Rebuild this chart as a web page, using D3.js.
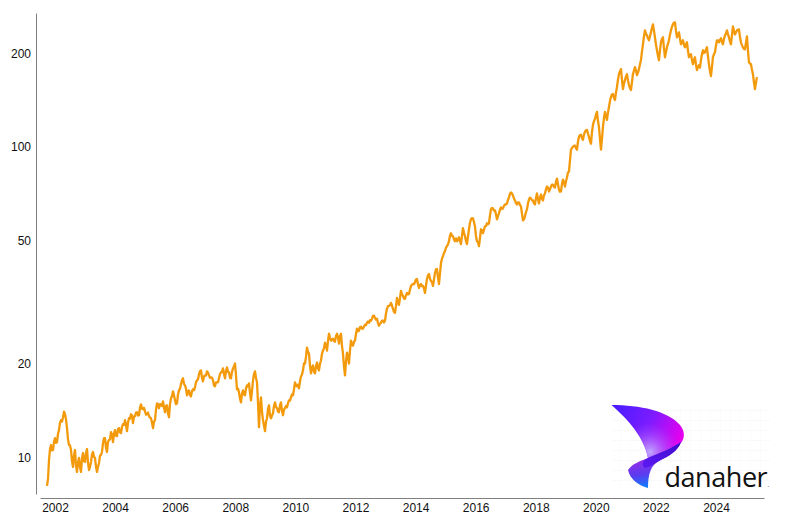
<!DOCTYPE html>
<html><head><meta charset="utf-8">
<script src="https://cdn.jsdelivr.net/npm/d3@7"></script>
<style>html,body{margin:0;background:#fff}svg{display:block}text{font-family:"Liberation Sans",Arial,sans-serif}</style>
</head><body><svg id="c" width="800" height="520"></svg>
<script>
const firstYear = 2001.734;
const yearsPerPoint = 0.03328;
const yTicks = [10, 20, 50, 100, 200];
const xTicks = [2002,2004,2006,2008,2010,2012,2014,2016,2018,2020,2022,2024];
const prices2001to2005 = [8.07,9.78,10.93,10.53,11.50,11.17,12.21,13.14,13.43,13.73,12.39,10.93,10.53,9.29,10.53,8.95,9.93,8.95,10.30,9.64,10.61,9.08,9.64,10.38,9.93,8.95,9.57,10.15,11.09,11.50,10.38,11.34,12.03,11.17,12.21,11.68,12.39,11.94,12.76,13.14,12.12,13.33,13.73,12.85,13.53,13.94,13.63,14.78,14.25,14.04,13.73,13.53,13.33,12.39,13.14,14.89];
const between2001to2005 = [8.5,10.6,10.5,11.2,11.1,11.9,12.9,13.0,14.0,13.2,11.4,10.9,9.7,10.1,9.4,9.6,9.3,9.9,9.7,10.3,9.6,9.3,10.2,10.0,9.3,9.3,10.1,10.4,11.5,10.7,11.2,11.4,11.8,11.9,11.7,12.3,12.0,12.5,12.7,12.7,12.9,13.3,13.6,13.5,13.9,13.6,14.4,14.3,14.4,13.7,13.9,13.4,12.9,13.0,14.2,14.8];
const prices2005to2009 = [14.36,14.78,15.11,13.94,14.67,13.43,15.45,16.27,15.22,14.89,16.39,17.14,17.92,17.01,15.80,16.39,15.68,16.52,16.76,17.65,18.45,19.01,17.52,18.32,18.87,18.32,18.05,17.65,16.89,17.39,17.92,18.73,19.29,17.92,19.43,18.73,17.92,19.29,20.0,16.52,16.15,15.00,16.39,15.80,17.01,17.26,15.22,17.65,18.87,17.39,12.48,15.56,13.14,12.12,13.33,14.67,13.33];
const between2005to2009 = [14.8,14.6,14.4,14.6,13.8,14.8,15.7,15.8,14.8,15.9,16.6,17.7,17.2,16.6,16.3,15.8,16.3,16.4,17.4,17.8,18.9,18.0,18.2,18.3,18.7,18.0,18.0,17.0,17.4,17.4,18.5,18.8,18.5,18.9,18.8,18.0,18.8,19.6,18.3,16.6,15.4,16.0,15.9,16.6,16.9,16.1,16.3,18.5,18.0,15.0,14.5,14.0,12.6,13.0,14.3,13.6,13.6];
const prices2009to2012 = [13.83,15.00,14.36,13.94,15.00,13.63,14.36,14.46,15.22,15.56,15.80,17.39,16.89,16.64,18.18,19.01,20.0,22.51,21.53,18.59,19.73,18.59,20.15,19.01,20.45,22.01,23.35,22.01,24.95,23.70,24.05,23.52,24.95,23.18,24.95,21.53,18.32,21.69,20.0,23.70,22.84,23.70,25.89,25.51,26.28,25.89,26.67,27.06,27.06];
const between2009to2012 = [14.6,14.5,14.0,14.7,14.1,14.2,14.6,14.9,15.2,15.9,16.5,17.0,17.1,17.5,18.4,20.0,21.0,21.8,19.7,19.4,18.8,19.6,19.3,20.0,21.5,22.4,22.9,23.6,24.2,23.9,23.6,24.5,24.3,24.5,22.8,19.6,20.3,21.1,22.0,23.0,23.5,24.9,25.4,26.2,25.9,26.3,26.6,27.3,27.6];
const prices2012to2015 = [27.47,28.49,28.08,27.87,26.47,27.06,27.47,27.47,30.00,30.67,31.36,30.00,29.13,32.54,30.90,34.26,33.02,32.30,33.76,33.51,35.55,36.07,36.61,37.43,35.03,36.07,35.55,33.76,37.43,38.83,36.88,35.55,39.12,40.30,36.07,42.12,44.35,46.02,47.75,49.54,52.55,51.40,49.54,49.54,51.02,48.46,54.53,51.40,48.46,54.12];
const between2012to2015 = [27.9,28.5,27.7,27.0,26.9,27.5,27.1,29.0,30.6,30.8,30.7,29.3,30.6,31.4,32.5,33.4,32.4,33.2,33.4,34.6,35.9,36.0,37.3,36.0,35.8,35.5,34.9,35.6,38.5,37.5,36.6,37.3,40.2,37.9,39.0,43.5,45.4,47.2,48.4,51.6,51.5,50.2,50.6,50.0,49.7,51.5,52.8,49.6,51.3,56.8];
const prices2015to2019 = [58.26,58.69,55.34,49.54,47.75,54.12,52.55,55.34,56.57,56.57,62.72,63.18,62.26,58.26,60.90,63.65,63.18,65.07,65.55,68.52,71.09,69.54,67.02,65.07,66.04,64.12,57.83,59.56,62.72,67.52,68.02,67.02,65.07,70.57,65.55,70.05,67.02,70.57,74.31,71.62,74.31,75.41,73.76,78.82,72.68,71.62,78.24,74.31,79.41,83.01];
const between2015to2019 = [58.8,57.1,51.5,49.2,50.7,53.8,54.0,55.4,56.2,60.0,63.4,62.2,60.5,59.8,62.6,62.9,64.4,65.0,67.3,70.4,70.6,67.9,65.7,66.0,64.8,60.9,58.2,61.5,65.5,68.4,67.1,65.6,68.3,67.8,68.3,67.9,69.6,72.8,73.6,72.7,75.4,74.1,76.8,75.6,71.5,75.8,76.6,77.3,82.5,90.0];
const prices2019to2025 = [97.63,99.82,100.55,97.63,107.46,109.06,105.10,111.50,113.14,107.46,102.05,117.38,122.69,129.18,115.66,97.63,115.66,129.18,121.79,134.04,144.30,147.52,141.14,155.34,170.99,177.41,153.06,163.58,170.99,157.65,151.94,170.99,180.05,169.73,177.41,189.58,213.33,236.50,227.95,219.73,233.04,247.20,224.64,204.10,189.58,216.50,224.64,193.82,208.66,219.73,236.50,247.20,250.86,224.64,233.04,213.33,219.73,208.66,216.50,193.82,198.16,184.06,193.82,176.10,182.72,189.58,204.10,201.10,208.66,184.06,168.48,193.82,201.10,219.73,216.50,222.99,213.33,227.95,236.50,224.64,213.33,243.58,229.63,236.50,238.26,216.50,208.66,205.60,226.27,186.80,184.06,170.99,153.06,167.25];
const between2019to2025 = [98.9,100.6,98.8,103.5,108.8,106.3,109.2,112.8,110.0,104.0,111.0,120.6,126.6,121.0,106.0,105.5,123.5,125.4,128.5,140.0,147.0,143.6,149.0,164.0,174.5,164.0,159.5,167.8,163.4,154.0,161.0,175.6,175.6,173.0,184.0,202.0,226.0,230.6,223.0,226.5,241.0,236.0,213.0,196.0,204.0,222.0,207.0,201.0,214.0,229.0,243.0,250.5,236.0,229.0,223.0,215.5,213.0,213.0,204.0,196.0,190.0,189.5,184.0,180.0,179.5,198.0,200.0,205.0,195.0,175.0,180.0,198.0,211.0,219.5,220.5,217.0,222.0,231.0,230.0,218.0,228.0,236.0,233.0,238.0,226.0,212.0,206.0,216.0,204.0,185.0,177.0,161.0,160.0];
const prices = [...prices2001to2005,...prices2005to2009,...prices2009to2012,...prices2012to2015,...prices2015to2019,...prices2019to2025];
const between = [...between2001to2005,...between2005to2009,...between2009to2012,...between2012to2015,...between2015to2019,...between2019to2025];
const series = d3.merge(prices.map((p,i)=> i < between.length ? [p, between[i]] : [p]));

const svg = d3.select("#c");
const x = d3.scaleLinear().domain([2002, 2024]).range([55, 716]);
const y = d3.scaleLog().domain([10, 200]).range([457, 53]);
const axisGrey = "#808080";

// y axis
const gy = svg.append("g").attr("transform","translate(36,0)")
  .call(d3.axisLeft(y.copy().domain([y.invert(494), y.invert(13)]).range([494,13])).tickValues(yTicks).tickSize(0).tickPadding(5).tickFormat(d3.format("d")));
gy.select(".domain").attr("stroke",axisGrey).attr("stroke-width",1);
gy.selectAll("text").attr("font-size",12).attr("fill","#111").attr("font-family","Liberation Sans").attr("dy","0.35em");

// x axis
const gx = svg.append("g").attr("transform","translate(0,498)")
  .call(d3.axisBottom(x.copy().domain([x.invert(40), x.invert(764)]).range([40,764])).tickValues(xTicks).tickSize(0).tickPadding(5).tickFormat(d3.format("d")));
gx.select(".domain").attr("stroke",axisGrey).attr("stroke-width",1);
gx.selectAll("text").attr("font-size",12).attr("fill","#111").attr("font-family","Liberation Sans");

// logo
const defs = svg.append("defs");
const upper = defs.append("linearGradient").attr("id","upper").attr("gradientUnits","userSpaceOnUse")
  .attr("x1",615).attr("y1",405).attr("x2",684).attr("y2",435);
[["0","#4a1cff"],["0.5","#7a1cff"],["1","#ea00ee"]].forEach(s=>upper.append("stop").attr("offset",s[0]).attr("stop-color",s[1]));
const glow = defs.append("radialGradient").attr("id","glow").attr("gradientUnits","userSpaceOnUse")
  .attr("cx",650).attr("cy",452).attr("r",30);
[["0","#c0a8ff",1],["1","#a040ff",0]].forEach(s=>glow.append("stop").attr("offset",s[0]).attr("stop-color",s[1]).attr("stop-opacity",s[2]));
const lower = defs.append("linearGradient").attr("id","lower").attr("gradientUnits","userSpaceOnUse")
  .attr("x1",645).attr("y1",490).attr("x2",640).attr("y2",462);
[["0","#008cff"],["0.55","#5a3cf0"],["1","#8a30e8"]].forEach(s=>lower.append("stop").attr("offset",s[0]).attr("stop-color",s[1]));
const band = defs.append("linearGradient").attr("id","band").attr("gradientUnits","userSpaceOnUse")
  .attr("x1",650).attr("y1",470).attr("x2",684).attr("y2",436);
[["0","#5a18f0"],["1","#3a08c8"]].forEach(s=>band.append("stop").attr("offset",s[0]).attr("stop-color",s[1]));
const dots = defs.append("pattern").attr("id","dots").attr("width",10).attr("height",10).attr("patternUnits","userSpaceOnUse");
dots.append("rect").attr("width",10).attr("height",1).attr("fill","#f9f9f9");
dots.append("rect").attr("width",1).attr("height",10).attr("fill","#fbfbfb");
svg.append("rect").attr("x",612).attr("y",406).attr("width",158).attr("height",84).attr("fill","url(#dots)");
const logo = svg.append("g");
const topShape = "M611.5,405 C640,405 668,411 680,425 C685,431 685,438 681,443 C672,448 660,453 648,458 C646,447 640,436 632,426 C625,417 618,411 611.5,405 Z";
logo.append("path").attr("d",topShape).attr("fill","url(#upper)");
logo.append("path").attr("d",topShape).attr("fill","url(#glow)");
logo.append("path").attr("d","M628,470 C632,464 640,461 648,458 C660,453 672,448 681,442 C678,451 669,456 659,461 C651,465 648,474 648,488 C640,486 630,480 628,470 Z").attr("fill","url(#lower)");
logo.append("path").attr("d","M648,458 C660,453 672,448 681,442 C678,451 669,456 659,461 C654,464 650,467 645,468 C640,464 644,460 648,458 Z").attr("fill","url(#band)");
const word = logo.append("text").attr("x",664.5).attr("y",487).attr("font-size",27).attr("fill","#111")
  .style("font-family","Open Sans").style("font-weight",400).style("letter-spacing","-0.45px");
word.append("tspan").text("danaher");
word.append("tspan").attr("font-size",8).attr("fill","#777").text(".");

// price line
const line = d3.line().x((d,i)=>x(firstYear + i*yearsPerPoint)).y(d=>y(d)).curve(d3.curveLinear);
svg.append("path").datum(series).attr("d",line).attr("fill","none").attr("stroke","#f39a0c").attr("stroke-width",2.3).attr("stroke-linejoin","round");
</script></body></html>
